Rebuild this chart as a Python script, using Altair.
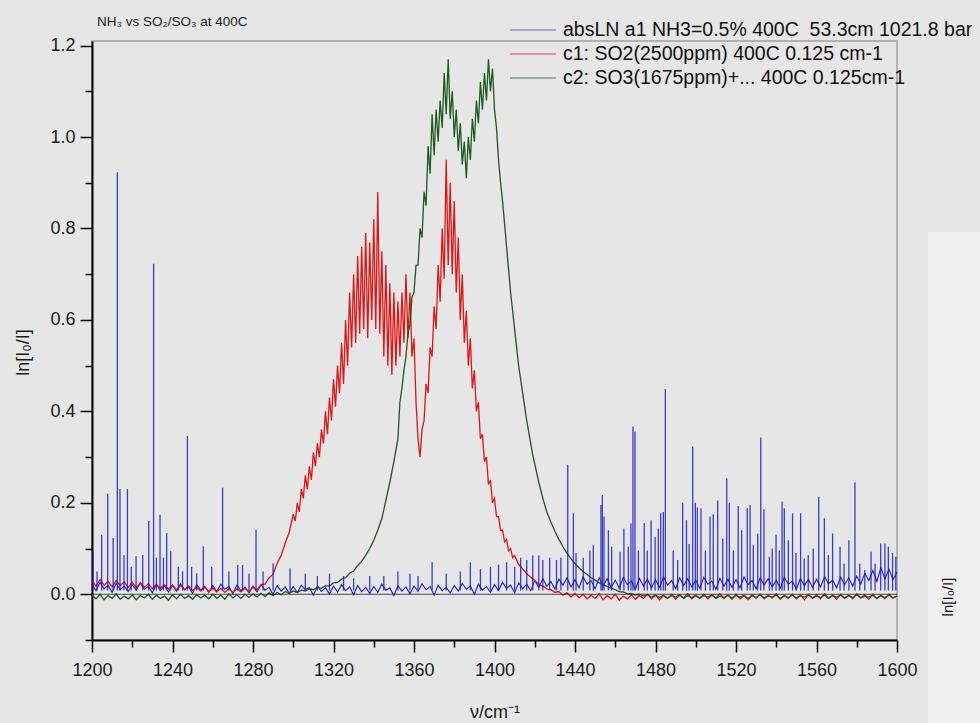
import altair as alt
import pandas as pd

# ---------------- data ----------------
# NH3 (blue) noisy baseline, every 2 cm-1 from 1200 to 1600
blue_x = list(range(1200, 1601, 2))
blue_y = [
    0.022, 0.008, 0.026, 0.012, 0.020, 0.004, 0.024, 0.010, 0.018, 0.006,
    0.021, 0.009, 0.025, 0.011, 0.017, 0.003, 0.022, 0.008, 0.019, 0.005,
    0.020, 0.007, 0.023, 0.010, 0.016, 0.002, 0.021, 0.009, 0.018, 0.004,
    0.019, 0.006, 0.022, 0.011, 0.017, 0.001, 0.020, 0.008, 0.016, 0.003,
    0.018, 0.005, 0.021, 0.009, 0.015, 0.000, 0.019, 0.007, 0.016, 0.002,
    0.017, 0.004, 0.020, 0.010, 0.015, -0.002, 0.018, 0.006, 0.014, 0.001,
    0.018, 0.005, 0.021, 0.008, 0.016, -0.001, 0.019, 0.006, 0.015, 0.002,
    0.017, 0.004, 0.022, 0.009, 0.014, -0.003, 0.019, 0.007, 0.016, 0.001,
    0.018, 0.006, 0.023, 0.010, 0.017, -0.002, 0.020, 0.008, 0.015, 0.003,
    0.019, 0.007, 0.024, 0.011, 0.018, 0.000, 0.022, 0.009, 0.017, 0.004,
    0.021, 0.008, 0.026, 0.013, 0.020, 0.003, 0.025, 0.012, 0.022, 0.008,
    0.030, 0.015, 0.034, 0.018, 0.028, 0.012, 0.033, 0.020, 0.036, 0.016,
    0.032, 0.014, 0.038, 0.022, 0.030, 0.012, 0.036, 0.019, 0.034, 0.015,
    0.031, 0.013, 0.037, 0.021, 0.029, 0.011, 0.035, 0.018, 0.033, 0.014,
    0.032, 0.015, 0.038, 0.020, 0.030, 0.012, 0.036, 0.019, 0.034, 0.016,
    0.031, 0.013, 0.037, 0.022, 0.029, 0.011, 0.035, 0.018, 0.033, 0.015,
    0.032, 0.014, 0.038, 0.021, 0.030, 0.012, 0.036, 0.020, 0.034, 0.016,
    0.031, 0.013, 0.037, 0.022, 0.029, 0.011, 0.035, 0.019, 0.033, 0.015,
    0.033, 0.016, 0.039, 0.023, 0.031, 0.014, 0.038, 0.021, 0.036, 0.018,
    0.040, 0.022, 0.046, 0.030, 0.052, 0.028, 0.058, 0.034, 0.055, 0.032,
    0.048,
]

# NH3 absorption lines (position, peak height)
spike_x = [
    1200.5, 1202.5, 1204.8, 1207.8, 1210.5, 1212.6, 1213.9, 1215.9, 1217.6, 1219.5,
    1221.9, 1225.2, 1228.2, 1230.6, 1232.0, 1233.8, 1235.5, 1237.1, 1239.1, 1242.9,
    1245.0, 1247.4, 1249.5, 1252.0, 1255.3, 1259.5, 1264.9, 1268.0, 1272.4, 1274.8,
    1278.0, 1281.5, 1285.0, 1290.0, 1298.4, 1306.0, 1312.0, 1318.0, 1325.0, 1330.0,
    1338.0, 1345.0, 1352.0, 1358.0, 1362.0, 1369.0, 1376.0, 1383.0, 1388.0, 1393.0,
    1398.0, 1402.0, 1406.0, 1410.0, 1413.0, 1416.0, 1419.0, 1422.0, 1424.0, 1427.4,
    1430.8, 1433.0, 1436.4, 1439.2, 1440.5, 1444.1, 1447.4, 1449.1, 1452.9, 1453.6,
    1454.4, 1456.6, 1458.2, 1462.4, 1464.3, 1466.5, 1467.8, 1468.8, 1469.8, 1471.5,
    1474.4, 1475.9, 1477.8, 1479.8, 1481.4, 1482.6, 1483.9, 1484.9, 1488.8, 1491.0,
    1493.5, 1495.4, 1496.7, 1498.5, 1499.8, 1500.8, 1502.6, 1504.8, 1507.1, 1508.7,
    1510.9, 1513.4, 1515.4, 1516.7, 1518.7, 1521.1, 1522.8, 1525.6, 1527.0, 1528.6,
    1530.8, 1532.3, 1533.9, 1536.6, 1538.0, 1539.9, 1541.5, 1542.9, 1544.0, 1546.0,
    1548.1, 1549.8, 1552.1, 1553.9, 1555.9, 1558.4, 1561.1, 1563.9, 1565.9, 1568.0,
    1571.7, 1573.7, 1576.1, 1579.1, 1581.5, 1584.0, 1587.1, 1589.1, 1591.9, 1594.0,
    1595.7, 1597.8, 1599.4,
]
spike_y = [
    0.094, 0.050, 0.130, 0.220, 0.123, 0.923, 0.230, 0.086, 0.230, 0.060,
    0.083, 0.086, 0.160, 0.723, 0.080, 0.174, 0.080, 0.134, 0.094, 0.060,
    0.050, 0.346, 0.060, 0.046, 0.105, 0.060, 0.233, 0.050, 0.064, 0.064,
    0.045, 0.141, 0.050, 0.068, 0.057, 0.045, 0.040, 0.045, 0.040, 0.035,
    0.040, 0.040, 0.050, 0.045, 0.040, 0.070, 0.045, 0.050, 0.070, 0.055,
    0.060, 0.065, 0.070, 0.060, 0.080, 0.075, 0.085, 0.085, 0.075, 0.080,
    0.075, 0.080, 0.283, 0.177, 0.090, 0.080, 0.096, 0.107, 0.195, 0.217,
    0.170, 0.140, 0.104, 0.093, 0.144, 0.104, 0.155, 0.367, 0.356, 0.096,
    0.156, 0.096, 0.162, 0.126, 0.144, 0.177, 0.180, 0.449, 0.096, 0.075,
    0.200, 0.162, 0.110, 0.323, 0.200, 0.190, 0.188, 0.096, 0.170, 0.175,
    0.205, 0.122, 0.254, 0.200, 0.096, 0.193, 0.140, 0.188, 0.195, 0.107,
    0.133, 0.343, 0.186, 0.082, 0.100, 0.130, 0.096, 0.203, 0.188, 0.118,
    0.177, 0.090, 0.177, 0.078, 0.086, 0.100, 0.213, 0.166, 0.086, 0.133,
    0.104, 0.067, 0.118, 0.245, 0.067, 0.053, 0.093, 0.067, 0.111, 0.111,
    0.104, 0.090, 0.082,
]

# SO2 (red)
red_x = list(range(1200, 1300, 2)) + list(range(1300, 1411)) + list(range(1412, 1601, 2))
red_y = [
    0.030, 0.018, 0.032, 0.020, 0.028, 0.016, 0.030, 0.019, 0.027, 0.015,
    0.026, 0.014, 0.025, 0.015, 0.023, 0.012, 0.022, 0.013, 0.021, 0.011,
    0.020, 0.010, 0.019, 0.010, 0.018, 0.008, 0.016, 0.007, 0.015, 0.006,
    0.014, 0.005, 0.013, 0.004, 0.012, 0.004, 0.012, 0.005, 0.013, 0.006,
    0.015, 0.010, 0.021, 0.022, 0.036, 0.044, 0.068, 0.085, 0.112, 0.135,
    # 1300 .. 1410 every 1 cm-1
    0.175, 0.160, 0.200, 0.180, 0.230, 0.210, 0.260, 0.230, 0.280, 0.250,
    0.310, 0.280, 0.330, 0.300, 0.360, 0.330, 0.400, 0.350, 0.430, 0.380,
    0.470, 0.410, 0.500, 0.440, 0.550, 0.460, 0.600, 0.500, 0.660, 0.540,
    0.700, 0.550, 0.740, 0.570, 0.760, 0.580, 0.790, 0.560, 0.770, 0.600,
    0.820, 0.580, 0.880, 0.570, 0.750, 0.520, 0.720, 0.500, 0.680, 0.480,
    0.660, 0.500, 0.640, 0.520, 0.660, 0.550, 0.700, 0.560, 0.660, 0.520,
    0.560, 0.420, 0.340, 0.300, 0.360, 0.380, 0.460, 0.440, 0.540, 0.520,
    0.630, 0.580, 0.720, 0.640, 0.800, 0.690, 0.950, 0.720, 0.900, 0.700,
    0.860, 0.660, 0.780, 0.600, 0.700, 0.550, 0.620, 0.500, 0.560, 0.450,
    0.490, 0.400, 0.420, 0.340, 0.350, 0.290, 0.300, 0.240, 0.250, 0.200,
    0.210, 0.170, 0.170, 0.140, 0.140, 0.115, 0.120, 0.095, 0.100, 0.080,
    0.085,
    # 1412 .. 1600 every 2 cm-1
    0.065, 0.055, 0.045, 0.038, 0.030, 0.022, 0.018, 0.012, 0.010, 0.004,
    0.006, -0.002, 0.003, -0.006, 0.002, -0.008, 0.000, -0.010, -0.002, -0.009,
    0.001, -0.012, -0.003, -0.010, 0.000, -0.013, -0.004, -0.010, -0.001, -0.011,
    -0.003, -0.009, 0.000, -0.010, -0.002, -0.012, -0.003, -0.009, 0.000, -0.011,
    -0.002, -0.008, 0.001, -0.010, -0.003, -0.009, 0.000, -0.010, -0.002, -0.008,
    0.001, -0.009, -0.002, -0.011, 0.000, -0.010, -0.003, -0.012, -0.001, -0.009,
    0.000, -0.010, -0.002, -0.008, 0.001, -0.011, -0.003, -0.009, 0.000, -0.010,
    -0.002, -0.012, 0.000, -0.009, -0.001, -0.010, 0.001, -0.008, -0.002, -0.011,
    0.000, -0.009, -0.002, -0.010, 0.001, -0.008, -0.001, -0.011, 0.000, -0.009,
    -0.002, -0.010, 0.000, -0.008, -0.004,
]

# SO3 (green)
green_x = list(range(1200, 1353, 2)) + list(range(1353, 1421)) + list(range(1422, 1601, 2))
green_y = [
    -0.002, -0.010, 0.000, -0.012, -0.003, -0.009, 0.001, -0.011, -0.004, -0.010,
    -0.001, -0.012, -0.003, -0.008, 0.000, -0.011, -0.002, -0.009, -0.004, -0.013,
    -0.001, -0.010, 0.000, -0.009, -0.003, -0.011, -0.001, -0.008, -0.002, -0.010,
    0.000, -0.009, -0.002, -0.011, 0.001, -0.008, -0.001, -0.009, 0.000, -0.007,
    0.001, -0.006, 0.002, -0.005, 0.003, -0.003, 0.004, -0.001, 0.006, 0.002,
    0.007, 0.004, 0.009, 0.007, 0.012, 0.010, 0.015, 0.013, 0.019, 0.018,
    0.025, 0.026, 0.033, 0.036, 0.046, 0.051, 0.063, 0.072, 0.085, 0.100,
    0.118, 0.140, 0.165, 0.205, 0.245, 0.290, 0.340,
    # 1353 .. 1420 every 1 cm-1
    0.42, 0.45, 0.49, 0.52, 0.57, 0.59, 0.65, 0.66, 0.72, 0.72,
    0.80, 0.78, 0.88, 0.85, 0.98, 0.92, 1.05, 0.96, 1.06, 0.99,
    1.08, 1.02, 1.14, 1.05, 1.17, 1.04, 1.10, 1.00, 1.06, 0.97,
    1.03, 0.94, 0.99, 0.91, 1.00, 0.95, 1.04, 0.99, 1.08, 1.03,
    1.12, 1.06, 1.14, 1.08, 1.17, 1.10, 1.15, 1.06, 1.02, 0.95,
    0.90, 0.86, 0.81, 0.76, 0.71, 0.66, 0.62, 0.58, 0.54, 0.50,
    0.47, 0.44, 0.41, 0.38, 0.355, 0.33, 0.305, 0.285,
    # 1422 .. 1600 every 2 cm-1
    0.245, 0.210, 0.180, 0.158, 0.138, 0.120, 0.104, 0.090, 0.078, 0.067,
    0.058, 0.050, 0.043, 0.036, 0.031, 0.025, 0.021, 0.017, 0.013, 0.010,
    0.006, 0.005, 0.001, 0.002, -0.002, 0.000, -0.004, -0.001, -0.006, -0.002,
    -0.007, -0.002, -0.008, -0.003, -0.006, -0.001, -0.009, -0.003, -0.007, -0.002,
    -0.008, -0.003, -0.006, -0.001, -0.009, -0.004, -0.007, -0.002, -0.008, -0.003,
    -0.006, -0.002, -0.009, -0.003, -0.007, -0.001, -0.008, -0.004, -0.006, -0.002,
    -0.009, -0.003, -0.007, -0.002, -0.008, -0.003, -0.006, -0.001, -0.008, -0.004,
    -0.007, -0.002, -0.009, -0.003, -0.006, -0.002, -0.008, -0.003, -0.007, -0.001,
    -0.008, -0.004, -0.006, -0.002, -0.009, -0.003, -0.007, -0.002, -0.008, -0.004,
]

x_ticks = [1200, 1220, 1240, 1260, 1280, 1300, 1320, 1340, 1360, 1380, 1400,
           1420, 1440, 1460, 1480, 1500, 1520, 1540, 1560, 1580, 1600]
y_ticks = [-0.1, 0.0, 0.1, 0.2, 0.3, 0.4, 0.5, 0.6, 0.7, 0.8, 0.9, 1.0, 1.1, 1.2]

legend_labels = [
    "absLN a1 NH3=0.5% 400C \u00a053.3cm 1021.8 bar",
    "c1: SO2(2500ppm) 400C 0.125 cm-1",
    "c2: SO3(1675ppm)+... 400C 0.125cm-1",
]
series_colors = ["#1c1cc8", "#e41212", "#1b5a1b"]
legend_colors = ["#8f8fd8", "#e07a7a", "#7d9f7d"]
title_text = "NH\u2083 vs SO\u2082/SO\u2083 at 400C"
ytitle_text = "ln[I\u2080/I]"
xtitle_text = "\u03bd/cm\u207b\u00b9"

FONT = "Liberation Sans"

# ---------------- frames ----------------
blue_df = pd.DataFrame({"x": blue_x, "y": blue_y})
spike_df = pd.DataFrame({"x": spike_x, "y": spike_y})
red_df = pd.DataFrame({"x": red_x, "y": red_y})
green_df = pd.DataFrame({"x": green_x, "y": green_y})
zero_df = pd.DataFrame({"y": [0.0]})

xscale = alt.Scale(domain=[1200, 1600], nice=False, zero=False)
yscale = alt.Scale(domain=[-0.1, 1.21], nice=False, zero=False)

x_axis = alt.Axis(
    values=x_ticks, format="d", labelFlush=False,
    labelExpr="datum.value % 40 == 0 ? datum.label : ''",
    tickSize={"condition": {"test": "datum.value % 40 == 0", "value": 12}, "value": 7},
    title=xtitle_text, titleFontSize=18, titleFontWeight="normal",
    titleY=77, titleBaseline="alphabetic",
    labelFontSize=18, labelPadding=9, labelFont=FONT, titleFont=FONT,
)
y_axis = alt.Axis(
    values=y_ticks, labelFlush=False,
    labelExpr="round(datum.value*10) % 2 == 0 ? format(datum.value, '.1f') : ''",
    tickSize={"condition": {"test": "round(datum.value*10) % 2 == 0", "value": 12}, "value": 7},
    title=ytitle_text, titleFontSize=18, titleFontWeight="normal",
    titleX=-64, titleY=311, titleAngle=270, titleAlign="center", titleBaseline="alphabetic",
    labelFontSize=18, labelPadding=5, labelFont=FONT, titleFont=FONT,
)
X = alt.X("x:Q", scale=xscale, axis=x_axis)
Y = alt.Y("y:Q", scale=yscale, axis=y_axis)

blue_line = alt.Chart(blue_df).mark_line(color=series_colors[0], strokeWidth=1.1).encode(x=X, y=Y)
spikes = alt.Chart(spike_df).mark_rule(color=series_colors[0], strokeWidth=1.3, opacity=0.85).encode(
    x=X, y=Y, y2=alt.datum(0.008),
)
red_line = alt.Chart(red_df).mark_line(color=series_colors[1], strokeWidth=1.3).encode(x=X, y=Y)
green_line = alt.Chart(green_df).mark_line(color=series_colors[2], strokeWidth=1.3).encode(x=X, y=Y)
zero_rule = alt.Chart(zero_df).mark_rule(color="#222222", strokeWidth=0.8).encode(y=Y)

# legend (manual, positioned over the top-right like the reference)
legend_layers = []
row_y = [-11, 13, 37]
for i, lab in enumerate(legend_labels):
    legend_layers.append(
        alt.Chart(pd.DataFrame({"t": [lab]})).mark_rule(color=legend_colors[i], strokeWidth=1.5).encode(
            x=alt.value(418), x2=alt.value(464), y=alt.value(row_y[i])
        )
    )
    legend_layers.append(
        alt.Chart(pd.DataFrame({"t": [lab]})).mark_text(
            align="left", baseline="middle", fontSize=19.5, font=FONT, color="#111111"
        ).encode(text="t:N", x=alt.value(471), y=alt.value(row_y[i]))
    )

title_mark = alt.Chart(pd.DataFrame({"t": [title_text]})).mark_text(
    align="left", baseline="middle", fontSize=13.5, font=FONT, color="#222222"
).encode(text="t:N", x=alt.value(5), y=alt.value(-19))

# neighbouring panel edge visible at the right of the screenshot
side_panel = alt.Chart(pd.DataFrame({"t": [ytitle_text]})).mark_rect(color="#efefef").encode(
    x=alt.value(836), x2=alt.value(890), y=alt.value(191), y2=alt.value(684)
)
side_text = alt.Chart(pd.DataFrame({"t": [ytitle_text]})).mark_text(
    angle=270, align="center", baseline="middle", fontSize=15, font=FONT, color="#111111"
).encode(text="t:N", x=alt.value(856), y=alt.value(556))

chart = alt.layer(
    side_panel, side_text, blue_line, red_line, green_line, spikes, zero_rule,
    title_mark, *legend_layers,
).properties(
    width=805, height=599,
    autosize="none",
    padding={"left": 92, "top": 41, "right": 83, "bottom": 83},
    background="#e6e6e6",
).configure_view(
    stroke="#a0a0a0", strokeWidth=1.5,
).configure_axis(
    grid=False, domainColor="#000000", domainWidth=2, tickColor="#000000", tickWidth=1.5,
    labelColor="#1a1a1a", titleColor="#1a1a1a",
)

chart.save("out.html", embed_options={"renderer": "svg", "actions": False})
